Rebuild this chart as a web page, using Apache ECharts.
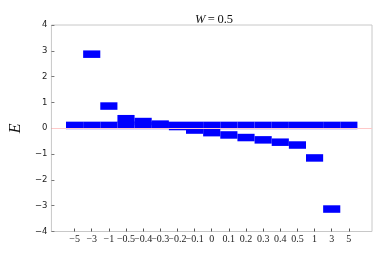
<!DOCTYPE html>
<html><head><meta charset="utf-8">
<script src="https://cdn.jsdelivr.net/npm/echarts@6/dist/echarts.min.js"></script>
<style>html,body{margin:0;padding:0;background:#fff}#c{width:382px;height:255px}</style>
</head><body><div id="c"></div>
<script>
var categories = ['\u22125','\u22123','\u22121','\u22120.5','\u22120.4','\u22120.3','\u22120.2','\u22120.1','0','0.1','0.2','0.3','0.4','0.5','1','3','5'];
// level near zero (one per category)
var levelA = [0.11,0.11,0.11,0.11,0.11,0.11,0.11,0.11,0.11,0.11,0.11,0.11,0.11,0.11,0.11,0.11,0.11];
// second level (null = outside the plotted range)
var levelB = [null,2.87,0.86,0.37,0.26,0.16,0.066,-0.07,-0.17,-0.26,-0.36,-0.45,-0.54,-0.65,-1.15,-3.13,null];
var yTicks = [-4,-3,-2,-1,0,1,2,3,4];
var titleText = 'W';
var titleValue = '\u2009=\u20090.5';

var data = [];
categories.forEach(function(c,i){
  if (levelA[i] != null) data.push([i, levelA[i]]);
  if (levelB[i] != null) data.push([i, levelB[i]]);
});
var idx = categories.map(function(c,i){return i;});

var chart = echarts.init(document.getElementById('c'), null, {renderer:'canvas'});
chart.setOption({
  animation:false,
  backgroundColor:'#fff',
  title:{
    text:'{i|' + titleText + '}{n|' + titleValue + '}',
    left:209, top:8, textAlign:'center',
    textStyle:{fontWeight:'normal', rich:{
      i:{fontFamily:'Liberation Serif', fontStyle:'italic', fontWeight:'normal', fontSize:12.5, color:'#111'},
      n:{fontFamily:'Liberation Serif', fontWeight:'normal', fontSize:12.5, color:'#111'}
    }}
  },
  grid:{left:46, right:10, top:25, bottom:23.5, show:true, borderColor:'#c8c8c8', borderWidth:1},
  xAxis:{
    type:'value', min:-1.35, max:17.35,
    splitLine:{show:false},
    axisLine:{show:false, onZero:false},
    axisTick:{show:true, inside:true, length:3, customValues:idx, lineStyle:{color:'#555'}},
    axisLabel:{customValues:idx, margin:3, fontFamily:'Liberation Serif', fontSize:10, color:'#222',
      formatter:function(v){var k=Math.round(v); return categories[k]!==undefined?categories[k]:'';}}
  },
  yAxis:{
    type:'value', min:yTicks[0], max:yTicks[yTicks.length-1], interval:1,
    name:'E', nameLocation:'middle', nameGap:21, nameRotate:90,
    nameTextStyle:{fontFamily:'Liberation Serif', fontStyle:'italic', fontSize:16, color:'#111'},
    splitLine:{show:false},
    axisLine:{show:false, onZero:false},
    axisTick:{show:true, inside:true, length:3, lineStyle:{color:'#777'}},
    axisLabel:{margin:4, fontFamily:'DejaVu Sans', fontSize:8.5, color:'#222',
      formatter:function(v){return v<0?'\u2212'+(-v):String(v);}}
  },
  series:[{
    type:'line', data:[], z:1,
    markLine:{
      silent:true, symbol:'none', label:{show:false},
      lineStyle:{color:'#ffc8c8', width:1, type:'solid'},
      data:[{yAxis:0}]
    }
  },{
    type:'custom',
    data:data,
    clip:false,
    renderItem:function(params, api){
      var x = api.value(0), y = api.value(1);
      var p1 = api.coord([x-0.5, y]);
      var p2 = api.coord([x+0.5, y]);
      var h = 7.5;
      return {type:'rect', shape:{x:p1[0], y:p1[1]-h/2, width:p2[0]-p1[0], height:h},
        style:{fill:'#0000ff'}};
    },
    z:3
  }]
});
</script></body></html>
